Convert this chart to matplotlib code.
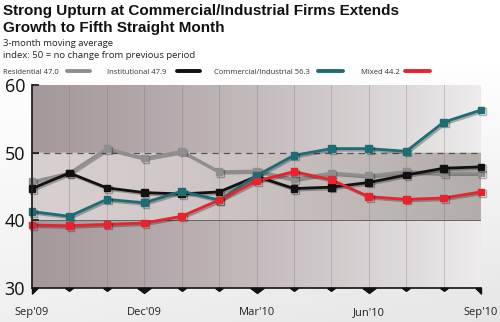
import numpy as np
import matplotlib
matplotlib.use("Agg")
import matplotlib.pyplot as plt
import matplotlib.patheffects as pe
from matplotlib.lines import Line2D

# ---- data: 3-month moving averages, Sep'09 .. Sep'10 ----
months = ["Sep'09", "Oct'09", "Nov'09", "Dec'09", "Jan'10", "Feb'10", "Mar'10",
          "Apr'10", "May'10", "Jun'10", "Jul'10", "Aug'10", "Sep'10"]
label_months = ["Sep'09", "Dec'09", "Mar'10", "Jun'10", "Sep'10"]

residential = [45.7, 47.0, 50.6, 49.2, 50.2, 47.2, 47.3, 46.1, 47.0, 46.6, 47.2, 47.0, 47.0]
institutional = [44.7, 47.0, 44.8, 44.1, 43.9, 44.2, 46.5, 44.7, 44.9, 45.6, 46.7, 47.7, 47.9]
commercial = [41.3, 40.6, 43.1, 42.6, 44.3, 43.0, 46.6, 49.6, 50.6, 50.6, 50.2, 54.5, 56.3]
mixed = [39.3, 39.2, 39.4, 39.6, 40.6, 43.0, 45.8, 47.2, 46.0, 43.5, 43.1, 43.3, 44.2]

series_names = ["Residential", "Institutional", "Commercial/Industrial", "Mixed"]
series_values = [residential, institutional, commercial, mixed]
series_colors = ["#8e8e8e", "#111111", "#1d6d74", "#e8232d"]
draw_order = [3, 1, 0, 2]

yticks = [30, 40, 50, 60]

W, H, DPI = 500, 322, 100
fig = plt.figure(figsize=(W / DPI, H / DPI), dpi=DPI)

# soft page background
bg = fig.add_axes([0, 0, 1, 1], zorder=-10)
yy = np.linspace(0, 1, 200)[:, None]
xx = np.linspace(0, 1, 200)[None, :]
shade = 1.0 - 0.10 * np.clip((yy - 0.2) / 0.8, 0, 1) * (0.6 + 0.4 * xx)
bg.imshow(np.dstack([shade, shade, shade]), extent=[0, 1, 0, 1], aspect="auto",
          origin="upper", interpolation="bilinear")
bg.set_axis_off()

x = np.arange(len(months))
ax = fig.add_axes([32 / W, 1 - 288 / H, (481 - 32) / W, (288 - 85) / H])
ax.set_xlim(0, len(months) - 1)
ax.set_ylim(30, 60)

# banded gradient plot background
ny, nx = 300, 400
t = np.linspace(0, 1, nx) ** 1.3
dark_l, dark_r = np.array([166, 153, 156]) / 255, np.array([238, 236, 236]) / 255
mid_l, mid_r = np.array([216, 208, 208]) / 255, np.array([178, 172, 170]) / 255
band_outer = dark_l[None, :] + (dark_r - dark_l)[None, :] * t[:, None]
band_mid = mid_l[None, :] + (mid_r - mid_l)[None, :] * t[:, None]
img = np.zeros((ny, nx, 3))
yvals = np.linspace(60, 30, ny)
for i, yv in enumerate(yvals):
    img[i] = band_mid if 40 <= yv < 50 else band_outer
ax.imshow(img, extent=[0, len(months) - 1, 30, 60], aspect="auto", origin="upper",
          interpolation="bilinear", zorder=0)

for xv in x[1:-1]:
    ax.axvline(xv, color="#7f7474", lw=0.7, alpha=0.35, zorder=1)
ax.axhline(50, color="#555555", lw=0.9, ls=(0, (5, 4)), zorder=1)
ax.axhline(40, color="#6a6262", lw=0.7, zorder=1)
ax.axvline(len(months) - 1, color="#d0cccc", lw=0.8, zorder=1)

shadow = [pe.SimpleLineShadow(offset=(1.2, -1.2), shadow_color="black", alpha=0.28),
          pe.Normal()]
for k in draw_order:
    ax.plot(x, series_values[k], color=series_colors[k], lw=2.0, marker="s",
            markersize=4.8, zorder=3 + k, clip_on=False, path_effects=shadow,
            solid_joinstyle="miter")

for s in ["top", "right"]:
    ax.spines[s].set_visible(False)
for s in ["left", "bottom"]:
    ax.spines[s].set_color("#222222")
    ax.spines[s].set_linewidth(1.3)
    ax.spines[s].set_zorder(10)

ax.set_yticks(yticks)
ax.set_yticklabels([str(v) for v in yticks], fontsize=13, family="Open Sans",
                   color="#111111")
ax.tick_params(axis="y", direction="in", length=5, width=1.3, color="#222222", pad=5)

label_pos = [months.index(m) for m in label_months]
ax.set_xticks(label_pos)
ax.set_xticklabels(label_months, fontsize=8, family="Open Sans", color="#222222")
ax.tick_params(axis="x", length=0, pad=14)

# triangle month markers below the axis
tri_small = [(-1, 0), (1, 0), (0, -0.75), (-1, 0)]
tri_first = [(0, 0), (1, 0), (0, -1), (0, 0)]
tri_last = [(-1, 0), (0, 0), (0, -1), (-1, 0)]
for xv in x:
    if xv == 0:
        mk, ms = tri_first, 8
    elif xv == len(months) - 1:
        mk, ms = tri_last, 8
    elif xv in label_pos:
        mk, ms = tri_small, 9.5
    else:
        mk, ms = tri_small, 5.5
    ax.plot([xv], [30], marker=mk, markersize=ms, color="#111111", lw=0,
            clip_on=False, zorder=11)

# titles
fig.text(3 / W, 1 - 15.5 / H, "Strong Upturn at Commercial/Industrial Firms Extends",
         fontsize=11, fontweight="bold", family="Liberation Sans", va="baseline",
         color="#111111")
fig.text(3 / W, 1 - 32 / H, "Growth to Fifth Straight Month",
         fontsize=11, fontweight="bold", family="Liberation Sans", va="baseline",
         color="#111111")
fig.text(3 / W, 1 - 45.5 / H, "3-month moving average", fontsize=6.8,
         family="Open Sans", va="baseline", color="#222222")
fig.text(3 / W, 1 - 57.5 / H, "index: 50 = no change from previous period",
         fontsize=6.8, family="Open Sans", va="baseline", color="#222222")

# legend row
legend_text_x = [3, 107, 214, 361]
legend_line_x = [(67, 90), (177, 200), (318, 343), (405, 430)]
for k in range(4):
    last = series_values[k][-1]
    label = f"{series_names[k]} {last:.1f}"
    fig.text(legend_text_x[k] / W, 1 - 74 / H, label, fontsize=5.5,
             family="Open Sans", va="baseline", color="#333333")
    x0, x1 = legend_line_x[k]
    fig.add_artist(Line2D([x0 / W, x1 / W], [1 - 71 / H, 1 - 71 / H],
                          transform=fig.transFigure, color=series_colors[k],
                          lw=2.8, solid_capstyle="round"))

fig.savefig("out.png", dpi=DPI)
